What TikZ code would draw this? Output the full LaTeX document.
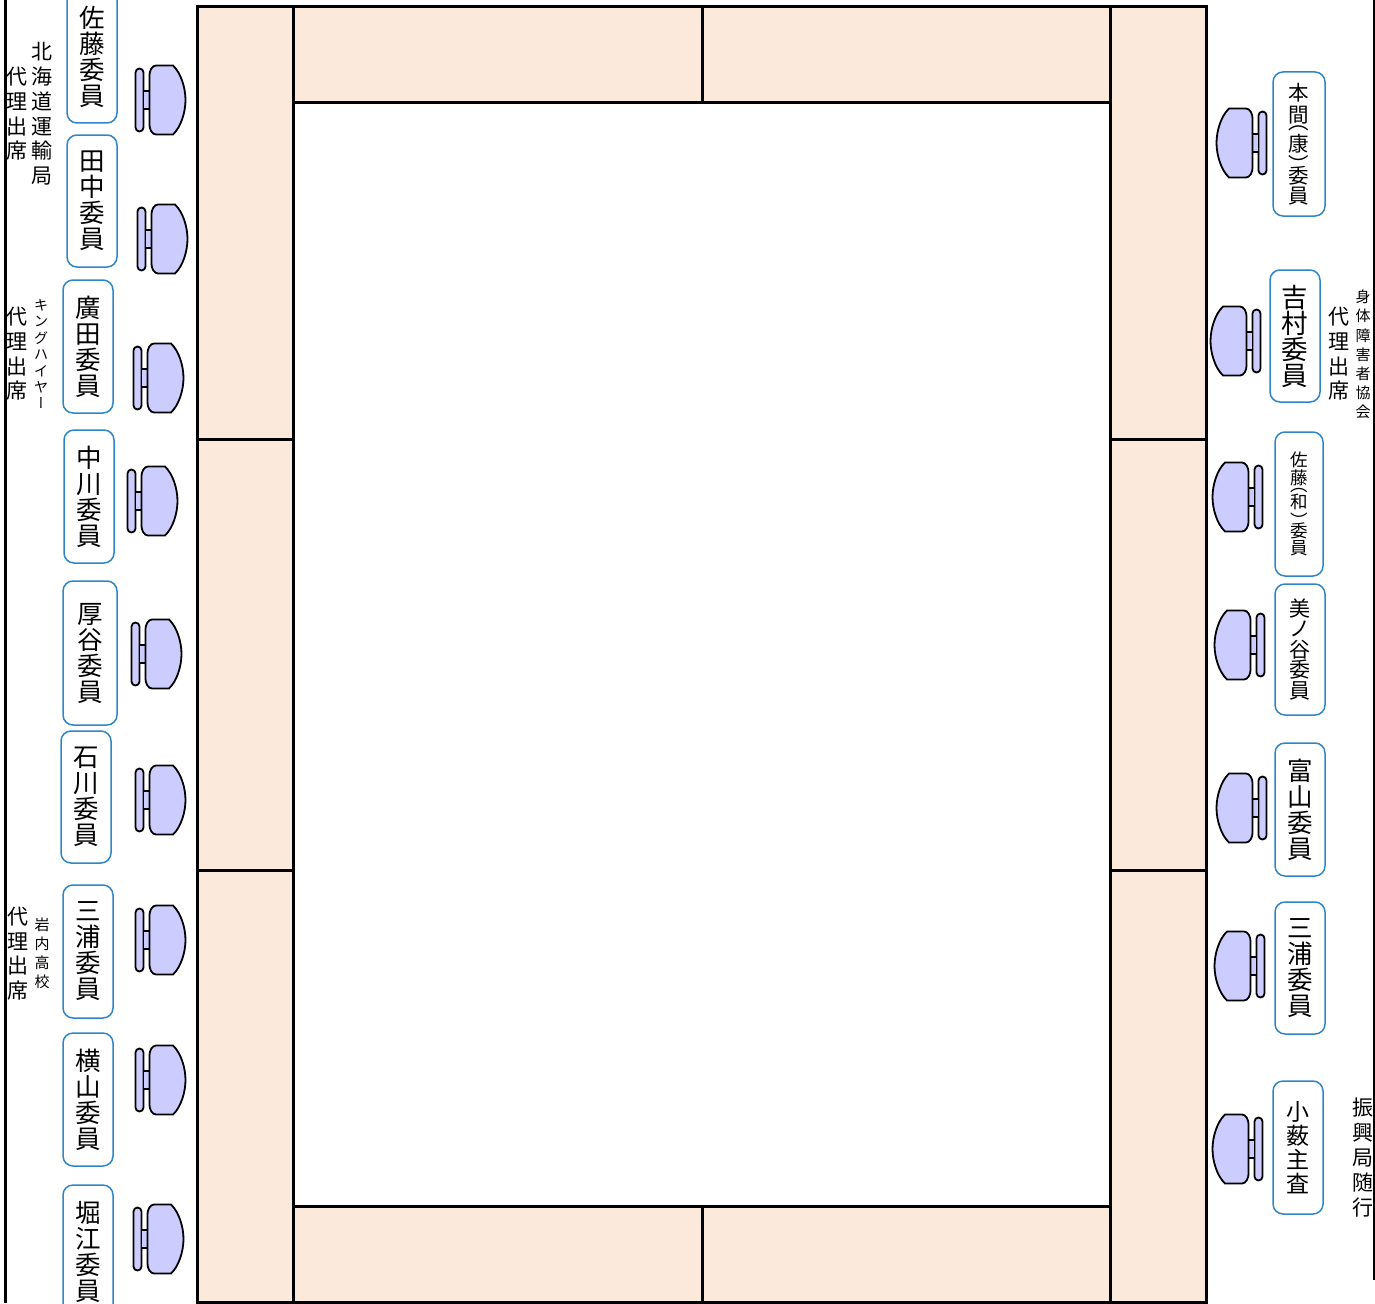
\documentclass[tikz,border=0pt]{standalone}
\usepackage{fontspec}
\setmainfont{Noto Sans CJK JP}
\newfontfamily\vertfont[RawFeature=+vert]{Noto Sans CJK JP}
\newcommand{\fsz}[2]{\fontsize{#1}{#2}\selectfont}
\newcommand{\vop}{\smash{\raisebox{.33em}{\vertfont（}}}
\newcommand{\vcp}{\smash{\raisebox{-.3em}{\vertfont）}}}
\newcommand{\vbar}{\smash{\raisebox{1pt}{\vertfont ー}}}
\tikzset{
  seatbox/.style={draw=seatblue,line width=1.5pt,fill=white,rounded corners=10pt,inner sep=0pt,align=center,text=black},
  big/.style={font=\fsz{25.5}{26}},
  sidelab/.style={inner sep=0pt,align=center,text=black},
  tableline/.style={line width=3pt,line cap=rect},
  chair/.pic={
    \draw[chairstroke,rounded corners=3.99pt] (0.5,-31.5) rectangle (8.5,31.5);
    \fill[chairfill] (9,-9) rectangle (15,9);
    \draw[chairline] (9,-9) -- (15,-9) (9,9) -- (15,9);
    \draw[chairstroke] (21,-34.5) -- (38,-34.5) .. controls (46,-27) and (50.5,-12) .. (50.5,0)
      .. controls (50.5,12) and (46,27) .. (38,34.5) -- (21,34.5)
      .. controls (17,34.5) and (14.5,29) .. (14.5,25) -- (14.5,-25)
      .. controls (14.5,-29) and (17,-34.5) .. (21,-34.5) -- cycle;
  },
  chairstroke/.style={draw=black,fill=chairfill,line width=1.8pt},
  chairline/.style={draw=black,line width=1.8pt},
}
\definecolor{seatblue}{HTML}{2F86C6}
\definecolor{chairfill}{HTML}{CCCCFF}
\definecolor{tablefill}{HTML}{FBE9DB}
\begin{document}
\begin{tikzpicture}[x=1pt,y=-1pt]
\path[use as bounding box] (0,0) rectangle (1375,1303);
\clip (0,0) rectangle (1375,1303);
\fill[white] (0,0) rectangle (1375,1303);
% side rules
\draw[line width=3pt] (5,0) -- (5,1303);
\draw[line width=2pt] (1374,0) -- (1374,1280);
% table
\fill[tablefill] (197,7) rectangle (1206.5,1302);
\fill[white] (293.5,102.5) rectangle (1110,1206);
\draw[tableline] (197,7) rectangle (1206.5,1302);
\draw[tableline] (293.5,102.5) rectangle (1110,1206);
\draw[tableline] (293.5,7) -- (293.5,102.5) (1110,7) -- (1110,102.5) (293.5,1206) -- (293.5,1302) (1110,1206) -- (1110,1302);
\draw[tableline] (702,7) -- (702,102.5) (702,1206) -- (702,1302);
\draw[tableline] (197,439) -- (293.5,439) (197,870.5) -- (293.5,870.5) (1110,439) -- (1206.5,439) (1110,870.5) -- (1206.5,870.5);
% chairs left
\pic at (135,100) {chair};
\pic at (137,239) {chair};
\pic at (133,378) {chair};
\pic at (127,501) {chair};
\pic at (131,654) {chair};
\pic at (135,800) {chair};
\pic at (135,940) {chair};
\pic at (135,1080) {chair};
\pic at (133,1239) {chair};
% chairs right
\pic[xscale=-1] at (1267,143) {chair};
\pic[xscale=-1] at (1261,341) {chair};
\pic[xscale=-1] at (1263,497) {chair};
\pic[xscale=-1] at (1265,645) {chair};
\pic[xscale=-1] at (1267,808) {chair};
\pic[xscale=-1] at (1265,966) {chair};
\pic[xscale=-1] at (1263,1149) {chair};
% seat boxes left
\node[seatbox,big,minimum width=50pt,minimum height=133pt] (sato) at (92,56.5) {佐\\藤\\委\\員};
\node[seatbox,big,minimum width=50pt,minimum height=132pt] (tanaka) at (92,201) {田\\中\\委\\員};
\node[seatbox,big,minimum width=50pt,minimum height=133pt] (hirota) at (88,346.5) {廣\\田\\委\\員};
\node[seatbox,big,minimum width=50pt,minimum height=133pt] (nakagawa) at (89,496.5) {中\\川\\委\\員};
\node[seatbox,big,minimum width=54pt,minimum height=144pt] (atsuya) at (90,653) {厚\\谷\\委\\員};
\node[seatbox,big,minimum width=50pt,minimum height=132pt] (ishikawa) at (86,797) {石\\川\\委\\員};
\node[seatbox,big,minimum width=50pt,minimum height=133pt] (miural) at (88,951.5) {三\\浦\\委\\員};
\node[seatbox,big,minimum width=50pt,minimum height=133pt] (yokoyama) at (88,1099.5) {横\\山\\委\\員};
\node[seatbox,big,minimum width=50pt,minimum height=133pt] (horie) at (88,1251.5) {堀\\江\\委\\員};
% seat boxes right
\node[seatbox,font=\fsz{20.5}{22},minimum width=52pt,minimum height=144pt] (homma) at (1299,144) {本\\間\\[-7.5pt]\vop\\[-7.5pt]康\\[-7pt]\vcp\\[-5pt]委\\[-2pt]員};
\node[seatbox,font=\fsz{26.5}{26},minimum width=50pt,minimum height=132pt] (yoshimura) at (1295,336) {吉\\村\\委\\員};
\node[seatbox,font=\fsz{17.5}{18.5},minimum width=48pt,minimum height=144pt] (satow) at (1299,504) {佐\\藤\\[-6.5pt]\vop\\[-6.5pt]和\\[-5.5pt]\vcp\\[-2.5pt]委\\[-1.5pt]員};
\node[seatbox,font=\fsz{21}{20.5},minimum width=50pt,minimum height=131pt] (minoya) at (1300,649.5) {美\\ノ\\谷\\委\\員};
\node[seatbox,big,minimum width=50pt,minimum height=133pt] (tomiyama) at (1300,809.5) {富\\山\\委\\員};
\node[seatbox,big,minimum width=50pt,minimum height=132pt] (miurar) at (1300,968) {三\\浦\\委\\員};
\node[seatbox,font=\fsz{23}{24},minimum width=50pt,minimum height=133pt] (koyabu) at (1298,1147.5) {小\\薮\\主\\査};
% side labels
\node[sidelab,font=\fsz{21}{24.7}] (dairi1) at (16.5,114) {代\\理\\出\\席};
\node[sidelab,font=\fsz{21}{24.8}] (hokkaido) at (41.5,114) {北\\海\\道\\運\\輸\\局};
\node[sidelab,font=\fsz{21}{24.7}] (dairi2) at (16.5,354) {代\\理\\出\\席};
\node[sidelab,font=\fsz{14}{16.5}] (king) at (41,354) {キ\\ン\\グ\\ハ\\イ\\ヤ\\\vbar};
\node[sidelab,font=\fsz{21}{24.5}] (dairi3) at (17.5,953.5) {代\\理\\出\\席};
\node[sidelab,font=\fsz{15}{19}] (iwanai) at (42,953.5) {岩\\内\\高\\校};
\node[sidelab,font=\fsz{21}{24.7}] (dairi4) at (1339,354) {代\\理\\出\\席};
\node[sidelab,font=\fsz{15}{19.2}] (shintai) at (1363,354.5) {身\\体\\障\\害\\者\\協\\会};
\node[sidelab,font=\fsz{21}{25}] (shinko) at (1363,1158) {振\\興\\局\\随\\行};
\end{tikzpicture}
\end{document}
